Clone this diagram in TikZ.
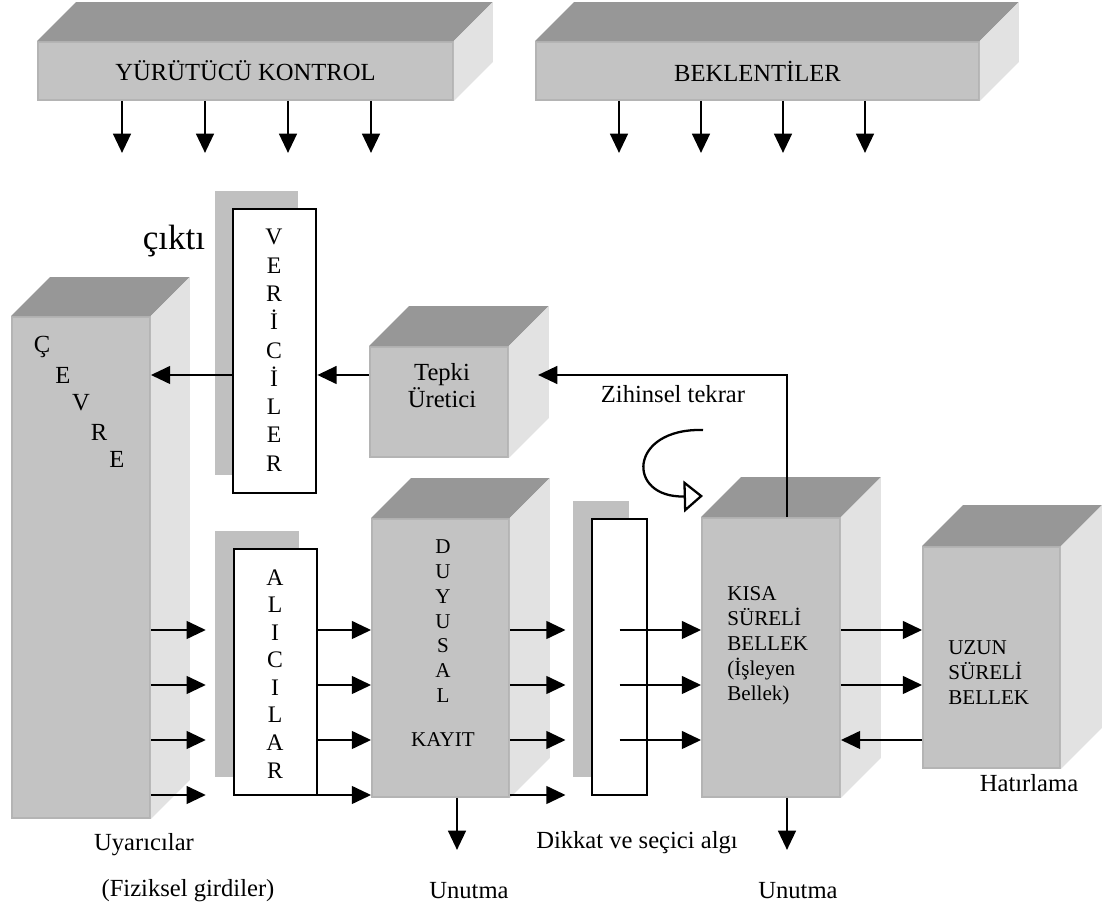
\documentclass[tikz,border=0pt]{standalone}
\usepackage{fontspec}
\setmainfont{Liberation Serif}
\usetikzlibrary{arrows.meta,fit}

\definecolor{facegray}{RGB}{195,195,195}
\definecolor{topgray}{RGB}{151,151,151}
\definecolor{sidegray}{RGB}{226,226,226}
\definecolor{edgegray}{RGB}{180,180,180}
\definecolor{plategray}{RGB}{192,192,192}

\tikzset{
  block/.style={fill=facegray, draw=edgegray, line width=1pt, inner sep=0pt},
  plate/.style={fill=plategray, inner sep=0pt},
  organ/.style={draw, fill=white, line width=1.5pt, inner sep=0pt},
  arr/.style={line width=1.6pt, -{Triangle[length=11pt,width=10pt]}},
  rehearsal/.style={line width=1.3pt, -{Triangle[open,length=11pt,width=18pt]}},
  lbl/.style={inner sep=0pt, font=\fontsize{14}{16}\selectfont},
  smalllbl/.style={inner sep=0pt, font=\fontsize{12}{14.2}\selectfont},
}

% top and right faces of a solid block
\newcommand{\blockfaces}[2]{%
  \fill[topgray] (#1.north west) -- ++(#2,-#2) -- ([shift={(#2,-#2)}]#1.north east) -- (#1.north east) -- cycle;
  \fill[sidegray] (#1.north east) -- ++(#2,-#2) -- ([shift={(#2,-#2)}]#1.south east) -- (#1.south east) -- cycle;
}

\begin{document}
\begin{tikzpicture}[x=0.02cm, y=-0.02cm]
\useasboundingbox (0,0) rectangle (1103,911);

% solid blocks
\node[block, fit={(38,42) (453,100)}] (ctrl) {};
\blockfaces{ctrl}{39}
\node[block, fit={(536,42) (979,100)}] (expect) {};
\blockfaces{expect}{39}
\node[block, fit={(12,317) (150,818)}] (cevre) {};
\blockfaces{cevre}{39}
\node[block, fit={(370,347) (508,457)}] (tepki) {};
\blockfaces{tepki}{40}
\node[block, fit={(372,519) (509,797)}] (duyusal) {};
\blockfaces{duyusal}{40}
\node[block, fit={(702,518) (840,797)}] (kisa) {};
\blockfaces{kisa}{40}
\node[block, fit={(923,547) (1060,768)}] (uzun) {};
\blockfaces{uzun}{41}

% receivers, senders, filter
\node[plate, fit={(215,191) (298,475)}] (vericip) {};
\node[organ, fit={(233,209) (316,493)}] (verici) {};
\node[plate, fit={(215,531) (299,777)}] (alicip) {};
\node[organ, fit={(234,549) (317,795)}] (alici) {};
\node[plate, fit={(573,501) (629,777)}] (filterp) {};
\node[organ, fit={(592,519) (647,795)}] (filter) {};

% texts
\node[lbl] (ctrltxt) at (ctrl.center) {YÜRÜTÜCÜ KONTROL};
\node[lbl] (expecttxt) at (expect.center) {BEKLENTİLER};
\node[lbl, align=center, anchor=north, font=\fontsize{13.5}{16.1}\selectfont] (vericitxt) at (274,229) {V\\E\\R\\İ\\C\\İ\\L\\E\\R};
\node[lbl, align=center, anchor=north, font=\fontsize{13.5}{15.7}\selectfont] (alicitxt) at (275,569) {A\\L\\I\\C\\I\\L\\A\\R};
\foreach \ch/\x/\y [count=\i] in {Ç/42/347, E/63/375, V/81/403, R/99/432, E/117/459}
  \node[lbl] (cevre\i) at (\x,\y) {\ch};
\node[lbl, align=center, font=\fontsize{14}{15.4}\selectfont] (tepkitxt) at (442,386) {Tepki\\Üretici};
\node[smalllbl, align=center, anchor=north] (duyusaltxt) at (443,539) {D\\U\\Y\\U\\S\\A\\L};
\node[smalllbl] (kayit) at (443,740) {KAYIT};
\node[smalllbl, align=left, anchor=north west] (kisatxt) at (727,586) {KISA\\SÜRELİ\\BELLEK\\(İşleyen\\Bellek)};
\node[smalllbl, align=left, anchor=north west] (uzuntxt) at (948,640) {UZUN\\SÜRELİ\\BELLEK};
\node[lbl, font=\fontsize{20}{22}\selectfont] (cikti) at (174,241) {çıktı};
\node[lbl] (tekrar) at (673,394) {Zihinsel tekrar};
\node[lbl] (uyaran) at (144,845) {Uyarıcılar};
\node[lbl] (girdi) at (188,891) {(Fiziksel girdiler)};
\node[lbl] (unutma1) at (469,891) {Unutma};
\node[lbl] (unutma2) at (798,891) {Unutma};
\node[lbl] (dikkat) at (637,843) {Dikkat ve seçici algı};
\node[lbl] (hatirla) at (1029,783) {Hatırlama};

% rows of arrows
\foreach \y [count=\i] in {630,685,740,795}
  \coordinate (row\i) at (0,\y);
\coordinate (outrow) at (0,375);

\foreach \x in {122,205,288,371} {
  \coordinate (ctrlout) at (\x,153);
  \draw[arr] (ctrl.south -| ctrlout) -- (ctrlout);
}
\foreach \x in {619,701,783,865} {
  \coordinate (expectout) at (\x,153);
  \draw[arr] (expect.south -| expectout) -- (expectout);
}

\foreach \i in {1,...,4} {
  \draw[arr, shorten >=5pt] (cevre.east |- row\i) -- (alicip.west |- row\i);
  \draw[arr] (alici.east |- row\i) -- (duyusal.west |- row\i);
  \draw[arr, shorten >=4pt] (duyusal.east |- row\i) -- (filterp.west |- row\i);
}
\foreach \i in {1,2,3}
  \draw[arr] (filter.center |- row\i) -- (kisa.west |- row\i);
\foreach \i in {1,2}
  \draw[arr] (kisa.east |- row\i) -- (uzun.west |- row\i);
\draw[arr] (uzun.west |- row3) -- (kisa.east |- row3);

\draw[arr] (verici.west |- outrow) -- (cevre.east |- outrow);
\draw[arr] (tepki.west |- outrow) -- (verici.east |- outrow);

% rehearsal loop back to response generator
\coordinate (rehx) at (787,0);
\coordinate (tepkiin) at (538,375);
\draw[arr] (kisa.north -| rehx) |- (tepkiin);
\coordinate (loopa) at (703,430);
\coordinate (loopb) at (703,496);
\draw[rehearsal] (loopa) .. controls (628,428) and (626,498) .. (loopb);

% forgetting
\coordinate (forget1) at (457,850);
\coordinate (forget2) at (787,850);
\draw[arr] (duyusal.south -| forget1) -- (forget1);
\draw[arr] (kisa.south -| forget2) -- (forget2);
\end{tikzpicture}
\end{document}
